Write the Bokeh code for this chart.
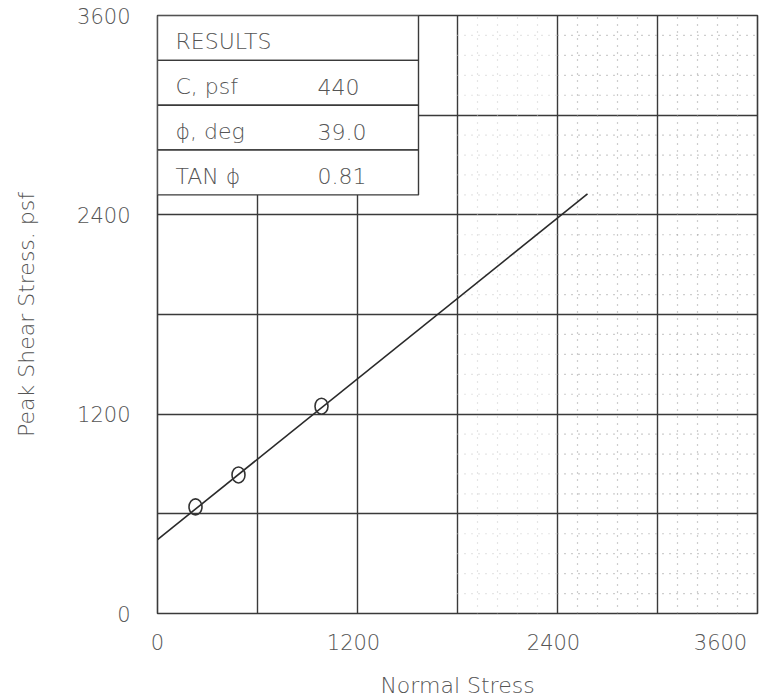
import numpy as np
from bokeh.plotting import figure
from bokeh.models import Range1d, FixedTicker
from bokeh.core.properties import value
from bokeh.embed import file_html
from bokeh.resources import INLINE

# ---- data ----
X_TICKS = [0, 1200, 2400, 3600]
X_TICK_LABELS = ["0", "1200", "2400", "3600"]
Y_TICKS = [0, 1200, 2400, 3600]
GRID_TICKS = [600, 1200, 1800, 2400, 3000]
NORMAL_STRESS = [228, 486, 984]          # psf
PEAK_SHEAR = [642, 834, 1248]            # psf
FIT_X = [0, 2580]
FIT_Y = [445, 2526]
TABLE_TITLE = "RESULTS"
RESULT_LABELS = ["C, psf", "\u03d5, deg", "TAN \u03d5"]
RESULT_VALUES = ["440", "39.0", "0.81"]
X_TITLE = "Normal Stress"
Y_TITLE = "Peak Shear Stress. psf"

FONT = "DejaVu Sans Light"
TXT = "#555555"
LINE = "#3a3a3a"

p = figure(width=761, height=700, output_backend="svg", toolbar_location=None,
           x_range=Range1d(0, 3600), y_range=Range1d(0, 3600),
           min_border_left=157, min_border_right=4, min_border_top=15, min_border_bottom=86)
p.background_fill_color = "white"
p.border_fill_color = "white"
p.outline_line_color = LINE
p.outline_line_width = 1.6

# major grid
p.xgrid.ticker = FixedTicker(ticks=GRID_TICKS)
p.ygrid.ticker = FixedTicker(ticks=GRID_TICKS)
p.grid.grid_line_color = LINE
p.grid.grid_line_width = 1.4
p.grid.grid_line_alpha = 1.0

# faint dotted minor grid at the right-hand part of the sheet
minor = [v for v in np.arange(120, 3600, 120) if v % 600 != 0]
for x0, x1, col in [(1800, 2400, "#cccccc"), (2400, 3600, "#9c9c9c")]:
    xs = [v for v in minor if x0 < v < x1]
    p.segment(x0=xs, y0=[0] * len(xs), x1=xs, y1=[3600] * len(xs),
              line_color=col, line_width=1.2, line_dash="1 6")
    p.segment(x0=[x0] * len(minor), y0=minor, x1=[x1] * len(minor), y1=minor,
              line_color=col, line_width=1.2, line_dash="1 6")

# x axis: the last label is drawn right-aligned inside the frame, as on the sheet
half_label = 222  # data units (~37 px) so that "3600" ends at the frame edge
x_label_pos = [X_TICKS[0]] + [v - 24 for v in X_TICKS[1:-1]] + [X_TICKS[-1] - half_label]
p.xaxis.ticker = FixedTicker(ticks=x_label_pos)
p.xaxis.major_label_overrides = {pos: lab for pos, lab in zip(x_label_pos, X_TICK_LABELS)}
p.yaxis.ticker = FixedTicker(ticks=Y_TICKS)

for ax in (p.xaxis[0], p.yaxis[0]):
    ax.axis_line_color = None
    ax.major_tick_line_color = None
    ax.minor_tick_line_color = None
    ax.major_label_text_font = FONT
    ax.major_label_text_font_size = "21px"
    ax.major_label_text_color = TXT
    ax.axis_label_text_font = FONT
    ax.axis_label_text_font_size = "22px"
    ax.axis_label_text_font_style = "normal"
    ax.axis_label_text_color = TXT

p.xaxis.major_label_standoff = 14
p.xaxis.axis_label = X_TITLE
p.xaxis.axis_label_standoff = 20
p.yaxis.major_label_standoff = 21
p.yaxis.axis_label = Y_TITLE
p.yaxis.axis_label_standoff = 35

# fit line and test points
p.line(FIT_X, FIT_Y, line_color="#2a2a2a", line_width=1.6)
p.ellipse(x=NORMAL_STRESS, y=PEAK_SHEAR, width=13, height=16,
          width_units="screen", height_units="screen",
          fill_color=None, line_color="#333333", line_width=1.6)

# results table (opaque box in the upper-left corner)
table_right = 1566
row_h = 270
n_rows = 1 + len(RESULT_LABELS)
tops = [3600 - i * row_h for i in range(n_rows)]
bottoms = [t - row_h for t in tops]
p.quad(left=0, right=table_right, top=tops, bottom=bottoms,
       fill_color="white", line_color=LINE, line_width=1.4)
centers = [(t + b) / 2 - 24 for t, b in zip(tops, bottoms)]
p.text(x=[108] * n_rows, y=centers, text=[TABLE_TITLE] + RESULT_LABELS,
       text_baseline="middle", text_align="left", text_font=value(FONT),
       text_font_size="22px", text_color=TXT)
p.text(x=[960] * len(RESULT_VALUES), y=centers[1:], text=RESULT_VALUES,
       text_baseline="middle", text_align="left", text_font=value(FONT),
       text_font_size="22px", text_color=TXT)

open("out.html", "w").write(file_html(p, INLINE))
